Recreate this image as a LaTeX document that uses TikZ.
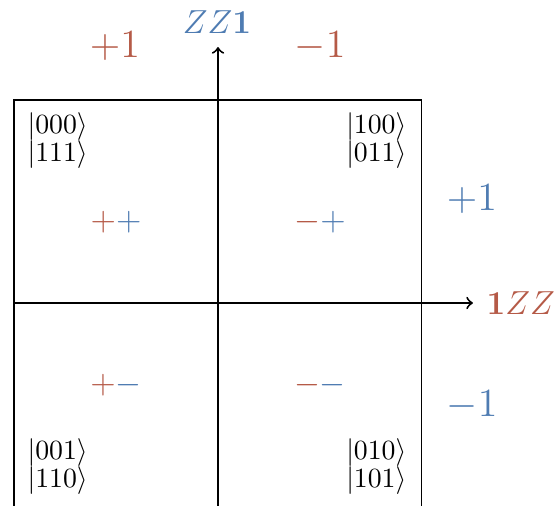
\documentclass[tikz,border=0pt]{standalone}
\usepackage{amsmath}
\definecolor{myred}{RGB}{181,90,71}
\definecolor{myblue}{RGB}{79,124,178}
\tikzset{
  axisline/.style={line width=0.7pt,->},
  boxline/.style={line width=0.7pt},
  ket/.style={inner sep=0pt,font={\fontsize{9.7}{9.9}\selectfont\lineskiplimit=-5pt}},
  sgn/.style={inner sep=0pt,font=\fontsize{13.2}{15}\selectfont},
  eig/.style={inner sep=0pt,font=\fontsize{13.5}{16}\selectfont},
  axlab/.style={inner sep=0pt,font=\fontsize{12.9}{15}\selectfont},
}
\begin{document}
\begin{tikzpicture}[x=0.36pt,y=-0.36pt]
\useasboundingbox (0,0) rectangle (560,506);
% square
\coordinate (sqA) at (14,100);
\coordinate (sqB) at (421.5,509);
\draw[boxline] (sqA) rectangle (sqB);
% axes
\coordinate (vbot) at (218,509);
\coordinate (vtop) at (218,47);
\coordinate (hleft) at (14,303);
\coordinate (hright) at (473,303);
\draw[axisline] (vbot) -- (vtop);
\draw[axisline] (hleft) -- (hright);
% axis labels
\node[axlab,anchor=base,text=myblue] (zz1) at (217,33) {$ZZ\mathbf{1}$};
\node[axlab,anchor=base west,text=myred] (1zz) at (486,315) {$\mathbf{1}ZZ$};
% eigenvalue labels
\node[eig,anchor=base,text=myred] (rp) at (115,58) {$+1$};
\node[eig,anchor=base,text=myred] (rm) at (320,58) {$-1$};
\node[eig,anchor=base,text=myblue] (bp) at (472,211) {$+1$};
\node[eig,anchor=base,text=myblue] (bm) at (472,416) {$-1$};
% quadrant signs
\node[sgn] (pp) at (116,222) {${\color{myred}+}{\color{myblue}+}$};
\node[sgn] (mp) at (320,222) {${\color{myred}-}{\color{myblue}+}$};
\node[sgn] (pm) at (116,385) {${\color{myred}+}{\color{myblue}-}$};
\node[sgn] (mm) at (320,385) {${\color{myred}-}{\color{myblue}-}$};
% kets
\node[ket,anchor=north west,align=left] (ktl) at (27,112.6) {$|000\rangle$\\$|111\rangle$};
\node[ket,anchor=north east,align=left] (ktr) at (407,112.6) {$|100\rangle$\\$|011\rangle$};
\node[ket,anchor=north west,align=left] (kbl) at (27,438.6) {$|001\rangle$\\$|110\rangle$};
\node[ket,anchor=north east,align=left] (kbr) at (407,438.6) {$|010\rangle$\\$|101\rangle$};
\end{tikzpicture}
\end{document}
